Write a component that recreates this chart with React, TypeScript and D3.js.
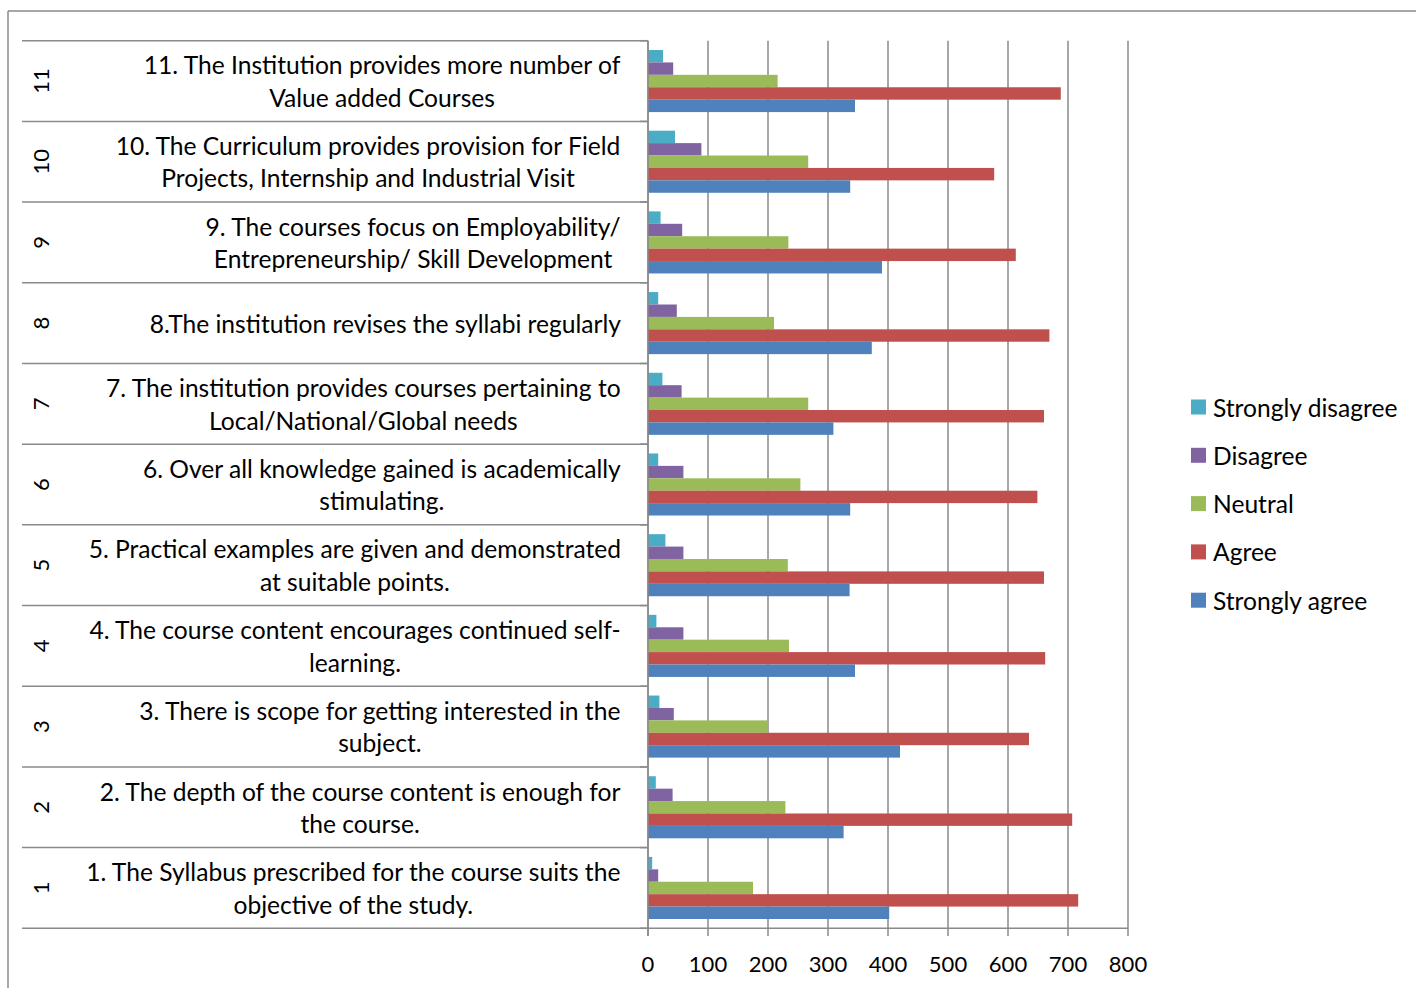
import React, { useMemo } from "react";
import * as d3 from "d3";

const seriesNames = ["Strongly disagree", "Disagree", "Neutral", "Agree", "Strongly agree"];
const seriesColors = ["#4BACC6", "#8064A2", "#9BBB59", "#C0504D", "#4F81BD"];

const itemNumbers = ["1", "2", "3", "4", "5", "6", "7", "8", "9", "10", "11"];
const itemLabels: string[][] = [
  ["1. The Syllabus prescribed for the course suits the", "objective of the study."],
  ["2. The depth of the course content is enough for", "the course."],
  ["3. There is scope for getting interested in the", "subject."],
  ["4. The course content encourages continued self-", "learning."],
  ["5. Practical examples are given and demonstrated", "at suitable points."],
  ["6. Over all knowledge gained is academically", "stimulating."],
  ["7. The institution provides courses pertaining to", "Local/National/Global needs"],
  ["8.The institution revises the syllabi regularly"],
  ["9. The courses focus on Employability/", "Entrepreneurship/ Skill Development"],
  ["10. The Curriculum provides provision for Field", "Projects, Internship and Industrial Visit"],
  ["11. The Institution provides more number of", "Value added Courses"],
];

const stronglyAgree = [402, 326, 420, 345, 336, 337, 309, 373, 390, 337, 345];
const agree = [717, 707, 635, 662, 660, 649, 660, 669, 613, 577, 688];
const neutral = [175, 229, 200, 235, 233, 254, 267, 210, 234, 267, 216];
const disagree = [17, 41, 43, 59, 59, 59, 56, 48, 57, 89, 42];
const stronglyDisagree = [7, 13, 19, 14, 29, 17, 24, 17, 21, 45, 25];

const xTicks = [0, 100, 200, 300, 400, 500, 600, 700, 800];

const FONT = "Lato, 'Open Sans', sans-serif";
const FS = 24.6;
const TICK_FS = 22;

export default function App() {
  const W = 1416, H = 988;
  const x = d3.scaleLinear().domain([0, 800]).range([648, 1128]);
  const y = d3.scaleBand<string>().domain([...itemNumbers].reverse()).range([40.7, 928.3]).padding(0);
  const bw = y.bandwidth();
  const barH = bw / 6.5;
  const seriesValues = [stronglyDisagree, disagree, neutral, agree, stronglyAgree];
  const gridColor = "#8a8a8a";

  const measure = useMemo(() => {
    const c = document.createElement("canvas").getContext("2d")!;
    c.font = `${FS}px Lato`;
    return (s: string) => c.measureText(s).width;
  }, []);

  const boundaries = [...y.domain().map((d) => y(d)!), 928.3];
  const textRight = 621;

  return (
    <svg width={W} height={H} style={{ position: "absolute", left: 0, top: 0, background: "#fff" }} fontFamily={FONT}>
      {/* outer frame */}
      <line x1={8} y1={11} x2={W} y2={11} stroke={gridColor} strokeWidth={1.5} />
      <line x1={8} y1={11} x2={8} y2={H} stroke={gridColor} strokeWidth={1.5} />

      {/* vertical gridlines */}
      {xTicks.map((t) => (
        <line key={"g" + t} x1={x(t)} x2={x(t)} y1={40.7} y2={936} stroke={gridColor} strokeWidth={1.5} />
      ))}
      {/* bottom axis */}
      <line x1={x(0)} x2={x(800)} y1={928.3} y2={928.3} stroke={gridColor} strokeWidth={1.5} />
      {xTicks.map((t) => (
        <text key={"t" + t} x={x(t)} y={963} textAnchor="middle" dominantBaseline="central" fontSize={TICK_FS} fill="#000">
          {t}
        </text>
      ))}

      {/* category boundaries */}
      {boundaries.map((b, i) => (
        <g key={"b" + i}>
          <line x1={22} x2={648} y1={b} y2={b} stroke={gridColor} strokeWidth={1.5} />
          <line x1={640} x2={648} y1={b} y2={b} stroke={gridColor} strokeWidth={1.5} />
        </g>
      ))}

      {/* bars */}
      {itemNumbers.map((item, i) => (
        <g key={"grp" + item}>
          {seriesValues.map((vals, k) => (
            <rect
              key={k}
              x={x(0)}
              y={y(item)! + 0.75 * barH + k * barH}
              width={x(vals[i]) - x(0)}
              height={barH}
              fill={seriesColors[k]}
            />
          ))}
        </g>
      ))}

      {/* category axis line */}
      <line x1={648} x2={648} y1={40.7} y2={936} stroke={gridColor} strokeWidth={1.5} />

      {/* category labels */}
      {itemNumbers.map((item, i) => {
        const cy = y(item)! + bw / 2;
        const lines = itemLabels[i];
        const blockW = Math.max(...lines.map(measure));
        const cx = textRight - blockW / 2;
        const lh = 32.5;
        return (
          <g key={"lab" + item}>
            <text
              transform={`translate(40,${cy}) rotate(-90)`}
              textAnchor="middle"
              dominantBaseline="central"
              fontSize={TICK_FS}
              fill="#000"
            >
              {item}
            </text>
            {lines.map((ln, j) => (
              <text
                key={j}
                x={cx}
                y={cy + (j - (lines.length - 1) / 2) * lh}
                textAnchor="middle"
                dominantBaseline="central"
                fontSize={FS}
                fill="#000"
              >
                {ln}
              </text>
            ))}
          </g>
        );
      })}

      {/* legend */}
      {seriesNames.map((s, k) => {
        const ly = 407 + k * 48.3;
        return (
          <g key={"lg" + s}>
            <rect x={1191} y={ly - 7.5} width={15} height={15} fill={seriesColors[k]} />
            <text x={1213} y={ly} dominantBaseline="central" fontSize={FS} fill="#000">
              {s}
            </text>
          </g>
        );
      })}
    </svg>
  );
}
